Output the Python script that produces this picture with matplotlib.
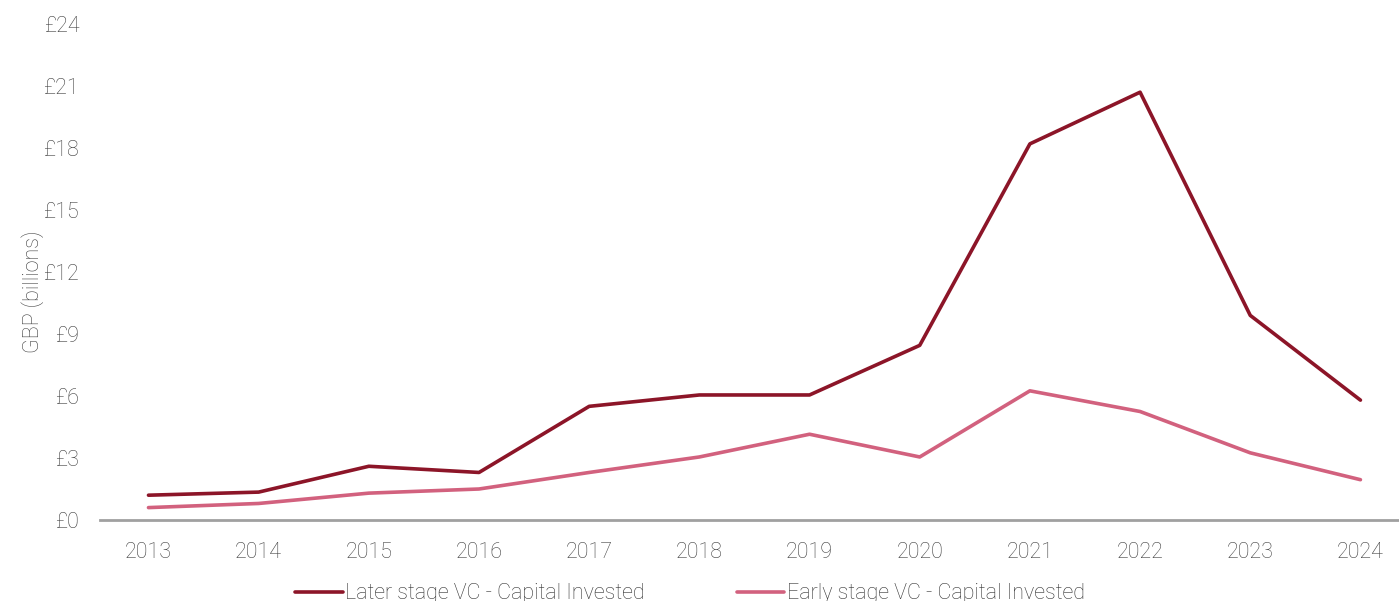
import matplotlib.pyplot as plt
import numpy as np

years = [2013, 2014, 2015, 2016, 2017, 2018, 2019, 2020, 2021, 2022, 2023, 2024]
later_stage = [1.2, 1.35, 2.6, 2.3, 5.5, 6.05, 6.05, 8.45, 18.2, 20.7, 9.9, 5.8]
early_stage = [0.6, 0.8, 1.3, 1.5, 2.3, 3.05, 4.15, 3.05, 6.25, 5.25, 3.25, 1.95]
y_ticks = [0, 3, 6, 9, 12, 15, 18, 21, 24]

plt.rcParams['font.family'] = ['Roboto', 'DejaVu Sans']
plt.rcParams['font.weight'] = 'light'
txt_color = '#404040'

fig = plt.figure(figsize=(13.99, 6.01), dpi=100)
ax = fig.add_axes([100/1399, 1 - 520/601, 1 - 100/1399, (520 - 24)/601])

ax.plot(years, later_stage, color='#8C1528', linewidth=2.6, solid_capstyle='round',
        label='Later stage VC - Capital Invested')
ax.plot(years, early_stage, color='#D2617E', linewidth=2.6, solid_capstyle='round',
        label='Early stage VC - Capital Invested')

ax.set_xlim(2012.56, 2024.35)
ax.set_ylim(0, 24)
ax.set_xticks(years)
ax.set_xticklabels([str(y) for y in years])
ax.set_yticks(y_ticks)
ax.set_yticklabels(['£%d' % v for v in y_ticks])

for s in ['top', 'right', 'left']:
    ax.spines[s].set_visible(False)
ax.spines['bottom'].set_color('#A0A0A0')
ax.spines['bottom'].set_linewidth(2)
ax.tick_params(length=0, labelsize=15.5, labelcolor=txt_color)
ax.tick_params(axis='x', pad=16)
ax.tick_params(axis='y', pad=15)
ax.set_ylabel('GBP (billions)', fontsize=15.5, color=txt_color, fontweight='light')
ax.yaxis.set_label_coords(-56/1299, 0.46)

fig.legend(loc='center', bbox_to_anchor=(690/1399, 1 - 594/601), ncol=2, frameon=False,
           fontsize=15.5, labelcolor='#333333', handlelength=2.2, handletextpad=0.1,
           columnspacing=4.3)

fig.savefig('out.png', dpi=100)
